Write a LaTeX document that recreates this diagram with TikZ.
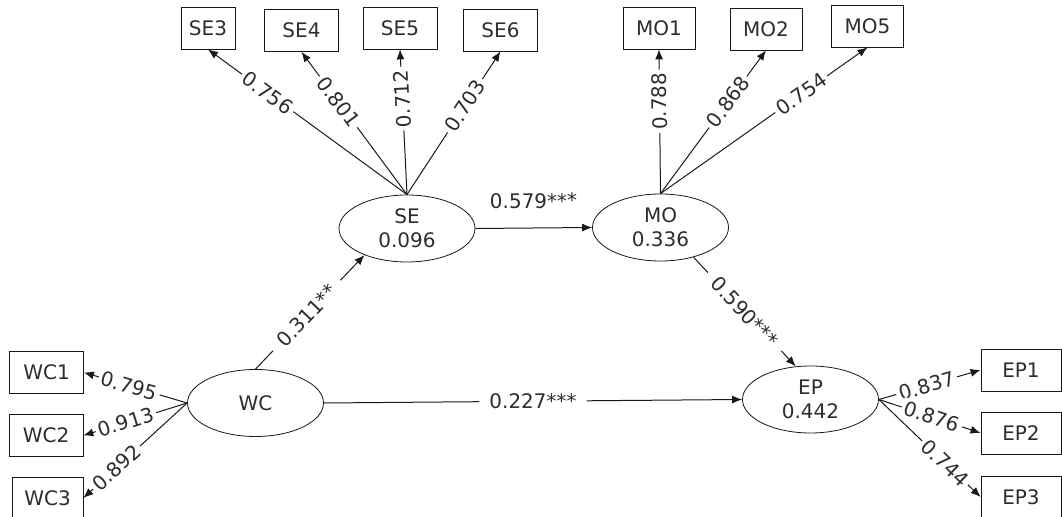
\documentclass[tikz,border=0pt]{standalone}
\usepackage{fontspec}
\setmainfont{DejaVu Sans}
\usetikzlibrary{arrows.meta, shapes.geometric}
\definecolor{PathInk}{RGB}{25, 25, 25}
\definecolor{LabelInk}{RGB}{45, 45, 45}

\begin{document}
\begin{tikzpicture}[x=0.5pt, y=-0.5pt,
    latent/.style={draw=PathInk, text=LabelInk, ellipse, minimum width=68pt, minimum height=33.5pt,
      inner sep=0pt, align=center, font=\fontsize{10}{12}\selectfont},
    item/.style={draw=PathInk, text=LabelInk, minimum width=37pt, minimum height=21pt,
      inner sep=0pt, font=\fontsize{10}{12}\selectfont},
    link/.style={draw=PathInk, line width=0.5pt, -{Latex[length=5pt, width=4pt]}},
    coef/.style={fill=white, text=LabelInk, inner sep=1.5pt, sloped, font=\fontsize{10}{12}\selectfont},
    effect/.style={coef, inner xsep=5pt}]
    \useasboundingbox (0, 0) rectangle (1062, 517);

    % Latent constructs
    \node[latent] (se) at (407, 228.5) {SE\\0.096};
    \node[latent] (mo) at (660.5, 227.5) {MO\\0.336};
    \node[latent] (wc) at (255.5, 403) {WC};
    \node[latent] (ep) at (810.5, 399.5) {EP\\0.442};

    % Indicators
    \node[item, minimum width=27pt] (se3) at (208, 28) {SE3};
    \node[item] (se4) at (301.5, 30.5) {SE4};
    \node[item] (se5) at (400, 28) {SE5};
    \node[item] (se6) at (500.5, 30) {SE6};
    \node[item, minimum width=36pt] (mo1) at (659, 28) {MO1};
    \node[item, minimum width=36pt] (mo2) at (766, 29) {MO2};
    \node[item, minimum width=36pt] (mo5) at (867.5, 26) {MO5};
    \node[item] (wc1) at (46.5, 372.5) {WC1};
    \node[item] (wc2) at (46, 435.5) {WC2};
    \node[item, minimum width=35.5pt] (wc3) at (47.5, 498) {WC3};
    \node[item, minimum width=40pt] (ep1) at (1021, 370) {EP1};
    \node[item, minimum width=40pt] (ep2) at (1021, 433) {EP2};
    \node[item, minimum width=40pt] (ep3) at (1021, 497) {EP3};

    % Loadings
    \draw[link] (se.north) -- node[coef, pos=0.7] {0.756} (se3.south);
    \draw[link] (se.north) -- node[coef, pos=0.65] {0.801} (se4.south);
    \draw[link] (se.north) -- node[coef, pos=0.66, allow upside down] {0.712} (se5.south);
    \draw[link] (se.north) -- node[coef, pos=0.62] {0.703} (se6.south);
    \draw[link] (mo.north) -- node[coef, pos=0.64, allow upside down] {0.788} (mo1.south);
    \draw[link] (mo.north) -- node[coef, pos=0.64] {0.868} (mo2.south);
    \draw[link] (mo.north) -- node[coef, pos=0.68] {0.754} (mo5.south);
    \draw[link] (wc.west) -- node[coef, pos=0.56] {0.795} (wc1.east);
    \draw[link] (wc.west) -- node[coef, pos=0.59] {0.913} (wc2.east);
    \draw[link] (wc.west) -- node[coef, pos=0.68] {0.892} (wc3.east);
    \draw[link] (ep.east) -- node[coef, pos=0.47] {0.837} (ep1.west);
    \draw[link] (ep.east) -- node[coef, pos=0.52] {0.876} (ep2.west);
    \draw[link] (ep.east) -- node[coef, pos=0.65] {0.744} (ep3.west);

    % Structural paths
    \draw[link] (wc.north) -- node[effect, pos=0.47] {0.311**} (se.212);
    \draw[link] (se.east) -- node[coef, above=8pt] {0.579***} (mo.west);
    \draw[link] (mo.318) -- node[effect] {0.590***} (ep.114);
    \draw[link] (wc.east) -- node[effect] {0.227***} (ep.west);
  \end{tikzpicture}
\end{document}
